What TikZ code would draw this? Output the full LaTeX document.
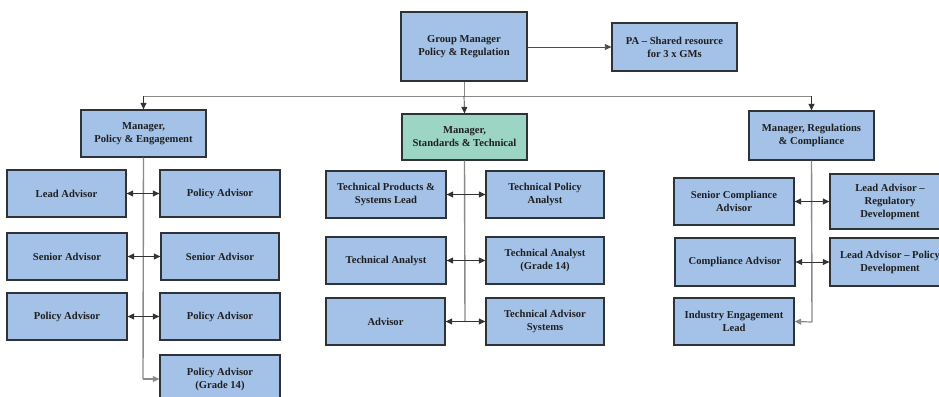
\documentclass[tikz,border=0pt]{standalone}
\usepackage{fontspec}
\setmainfont{Liberation Serif}
\usetikzlibrary{arrows.meta}
\definecolor{boxblue}{HTML}{A4C2E8}
\definecolor{boxgreen}{HTML}{9DD5C5}
\definecolor{boxline}{HTML}{2E3338}
\definecolor{connline}{HTML}{8A8A8A}
\tikzset{
  box/.style={draw=boxline, line width=1.3pt, fill=boxblue, align=center, inner sep=0pt,
    font=\fontsize{10.6}{13}\selectfont\bfseries, text=black!88},
  trunk/.style={draw=connline, line width=1.4pt},
  branch/.style={draw=black!80, line width=0.7pt, -{Triangle[length=6.5pt,width=6pt]}},
  twoway/.style={draw=black!80, line width=0.7pt, {Triangle[length=6.5pt,width=6pt]}-{Triangle[length=6.5pt,width=6pt]}},
  feed/.style={draw=connline, line width=1.2pt, -{Triangle[length=6.5pt,width=6pt]}, shorten >=0pt},
}
\newcommand{\bx}[6]{\node[box,#6, minimum width=#3pt, minimum height=#4pt] (#1) at (#2) {#5};}
\begin{document}
\begin{tikzpicture}[x=1pt,y=-1pt]
\useasboundingbox (0,0) rectangle (939,396);
\begin{scope}
\clip (0,0) rectangle (939,396);
% top
\bx{gm}{464,46.5}{126}{69}{Group Manager\\Policy \& Regulation}{}
\bx{pa}{674.5,47}{125}{48}{PA -- Shared resource\\for 3 x GMs}{}
% managers
\bx{mpe}{143.5,133.5}{125}{47}{Manager,\\Policy \& Engagement}{}
\bx{mst}{464.5,137}{125}{46}{Manager,\\Standards \& Technical}{fill=boxgreen}
\bx{mrc}{811.5,135.5}{125}{49}{Manager, Regulations\\\& Compliance}{}
% left column
\bx{la}{66.5,193.5}{119}{47}{Lead Advisor}{}
\bx{pa1}{220,193.5}{120}{47}{Policy Advisor}{}
\bx{sa1}{67,256.5}{120}{47}{Senior Advisor}{}
\bx{sa2}{220,256.5}{118}{47}{Senior Advisor}{}
\bx{pa2}{67,316.5}{120}{47}{Policy Advisor}{}
\bx{pa3}{220,316.5}{120}{47}{Policy Advisor}{}
\bx{pa4}{220,379}{120}{48}{Policy Advisor\\(Grade 14)}{}
% middle column
\bx{tp}{386,194.5}{120}{47}{Technical Products \&\\Systems Lead}{}
\bx{tpa}{545,194.5}{118}{47}{Technical Policy\\Analyst}{}
\bx{ta}{386,260.5}{120}{47}{Technical Analyst}{}
\bx{ta14}{545,260.5}{118}{47}{Technical Analyst\\(Grade 14)}{}
\bx{adv}{385.5,321.5}{119}{47}{Advisor}{}
\bx{tas}{545,321.5}{118}{47}{Technical Advisor\\Systems}{}
% right column
\bx{sca}{734,201.5}{120}{47}{Senior Compliance\\Advisor}{}
\bx{lard}{890,201.5}{120}{55}{Lead Advisor --\\Regulatory\\Development}{}
\bx{ca}{735,262}{120}{48}{Compliance Advisor}{}
\bx{lapd}{890,262}{120}{48}{Lead Advisor -- Policy\\Development}{}
\bx{iel}{734,321.5}{120}{47}{Industry Engagement\\Lead}{}
% connectors top
\coordinate (hy) at (464,96);
\draw[trunk, line width=1pt] (gm.south) -- (hy);
\draw[trunk, line width=1pt] (mpe.north |- hy) -- (mrc.north |- hy);
\draw[branch] (mpe.north |- hy) -- (mpe.north);
\draw[branch] (hy) -- (mst.north);
\draw[branch] (mrc.north |- hy) -- (mrc.north);
\draw[branch, draw=black!70, line width=0.8pt] (gm.east |- pa.west) -- (pa.west);
% left trunk
\coordinate (lt) at (143,379);
\draw[trunk] (mpe.south) -- (lt);
\draw[feed] (lt) -- (pa4.west);
\draw[twoway] (la.east) -- (pa1.west);
\draw[twoway] (sa1.east) -- (sa2.west);
\draw[twoway] (pa2.east) -- (pa3.west);
% middle trunk
\coordinate (mt) at (465,322);
\draw[trunk] (mst.south) -- (mt);
\draw[twoway] (tp.east) -- (tpa.west);
\draw[twoway] (ta.east) -- (ta14.west);
\draw[twoway] (adv.east) -- (tas.west);
% right trunk
\coordinate (rt) at (812,322);
\draw[trunk] (mrc.south) -- (rt);
\draw[twoway] (sca.east) -- (lard.west |- sca.east);
\draw[twoway] (ca.east) -- (lapd.west);
\draw[feed] (rt) -- (iel.east);
\end{scope}
\end{tikzpicture}
\end{document}
